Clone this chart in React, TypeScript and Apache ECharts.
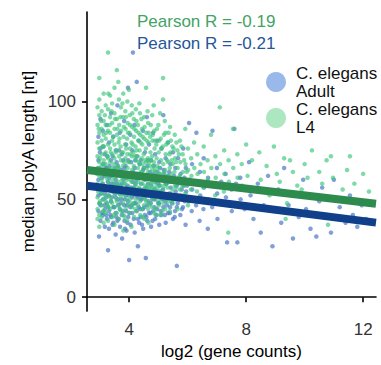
import React, { useEffect, useRef } from "react";
import * as echarts from "echarts";

const FONT = "'Liberation Sans', Arial, Helvetica, sans-serif";

const seriesNames = ["C. elegans\nAdult", "C. elegans\nL4"];
const pearsonAdult = -0.21;
const pearsonL4 = -0.19;
const xTicks = [4, 8, 12];
const yTicks = [0, 50, 100];

// regression fits (end points)
const adultFit: [number, number][] = [[2.56, 56.9], [12.44, 38.1]];
const l4Fit: [number, number][] = [[2.56, 65.0], [12.44, 47.7]];

const adultPoints: [number, number][] = [
  [2.95,82],[2.95,70],[2.95,60],[2.95,52],[2.95,44],[2.97,31],
  [3.02,91],[3.02,76],[3.02,64],[3.02,55],[3.02,47],[3.02,39],
  [3.1,85],[3.1,68],[3.1,58],[3.1,50],[3.1,42],
  [3.17,73],[3.17,62],[3.17,53],[3.17,45],[3.17,36],
  [3.24,88],[3.24,66],[3.24,56],[3.24,48],[3.24,40],[3.28,24],
  [3.31,79],[3.31,61],[3.31,52],[3.31,44],[3.31,35],
  [3.38,94],[3.38,70],[3.38,58],[3.38,49],[3.38,41],
  [3.46,82],[3.46,64],[3.46,54],[3.46,46],[3.46,38],
  [3.54,75],[3.54,60],[3.54,51],[3.54,43],[3.54,32],
  [3.6,98],[3.62,67],[3.6,56],[3.62,47],[3.6,39],
  [3.68,84],[3.69,62],[3.67,53],[3.68,45],[3.69,36],
  [3.75,73],[3.76,58],[3.74,50],[3.75,42],[3.76,30],
  [3.83,90],[3.84,66],[3.82,55],[3.83,47],[3.84,39],
  [3.9,78],[3.91,61],[3.89,52],[3.9,44],[3.91,34],
  [3.96,107],[3.97,70],[3.95,57],[3.96,49],[3.97,41],[4.0,19],
  [4.04,83],[4.05,63],[4.03,54],[4.04,46],[4.05,37],
  [4.11,75],[4.12,59],[4.1,51],[4.11,43],[4.13,125],
  [4.18,88],[4.19,66],[4.17,56],[4.18,48],[4.19,33],
  [4.26,110],[4.26,72],[4.25,60],[4.27,52],[4.26,44],[4.3,26],
  [4.33,80],[4.34,63],[4.32,55],[4.33,46],[4.34,38],
  [4.4,70],[4.41,58],[4.39,50],[4.4,41],
  [4.47,85],[4.48,65],[4.46,54],[4.47,45],[4.48,35],
  [4.54,74],[4.55,60],[4.53,51],[4.54,42],[4.57,20],
  [4.61,92],[4.62,67],[4.6,56],[4.61,47],[4.62,39],
  [4.68,78],[4.69,61],[4.67,52],[4.68,43],
  [4.75,70],[4.76,57],[4.74,48],[4.75,36],
  [4.82,84],[4.83,63],[4.81,53],[4.82,44],
  [4.89,73],[4.9,59],[4.88,50],[4.89,40],
  [4.96,80],[4.97,64],[4.95,54],[4.96,45],
  [5.03,69],[5.04,57],[5.02,48],[5.03,37],
  [5.1,76],[5.11,61],[5.09,51],[5.1,42],
  [5.17,93],[5.18,65],[5.16,55],[5.17,46],
  [5.25,71],[5.26,58],[5.24,49],[5.25,38],
  [5.33,79],[5.34,62],[5.32,52],[5.33,43],
  [5.41,68],[5.42,56],[5.4,46],
  [5.5,74],[5.51,60],[5.49,50],[5.5,40],
  [5.58,66],[5.59,54],[5.57,44],[5.63,16],
  [5.67,71],[5.68,58],[5.66,48],
  [5.76,63],[5.77,52],[5.75,42],
  [5.85,76],[5.86,57],[5.84,46],
  [5.94,66],[5.95,54],[5.93,37],
  [6.05,89],[6.06,60],[6.04,49],
  [6.15,68],[6.16,55],[6.14,44],
  [6.3,84],[6.31,58],[6.29,47],
  [6.42,64],[6.43,52],[6.41,39],
  [6.55,71],[6.56,56],[6.54,45],
  [6.7,61],[6.71,50],[6.69,35],
  [6.85,85],[6.86,57],[6.84,46],
  [7.0,66],[7.01,53],[7.02,40],
  [7.15,59],[7.16,48],[7.35,28],[7.3,63],[7.31,51],
  [7.5,55],[7.51,44],[7.6,86],[7.7,28],[7.65,58],[7.66,47],
  [7.8,61],[7.81,50],[7.95,45],
  [8.1,69],[8.15,52],[8.25,40],[8.4,58],[8.5,33],[8.6,47],[8.75,62],[8.9,26],
  [8.95,44],[9.1,55],[9.2,38],[9.3,66],[9.45,47],[9.6,30],[9.7,52],[9.8,41],
  [9.95,60],[10.05,45],[10.2,35],[10.4,31],[10.5,49],[10.6,56],[10.75,42],[10.9,33],
  [11.0,60],[11.2,46],[11.4,38],[11.55,52],[11.65,42],[11.8,36],[11.95,47],[12.1,40],
  [2.93,57],[2.96,66],[2.99,48],[3.0,74],[3.04,53],[3.07,61],[3.08,43],[3.12,77],[3.14,55],[3.16,47],
  [3.19,66],[3.21,51],[3.22,42],[3.26,72],[3.27,59],[3.29,46],[3.33,67],[3.34,55],[3.36,42],[3.39,62],
  [3.41,51],[3.43,37],[3.44,72],[3.48,58],[3.49,46],[3.51,66],[3.52,53],[3.56,41],[3.57,69],[3.59,58],
  [3.63,50],[3.64,40],[3.66,75],[3.7,57],[3.71,48],[3.73,65],[3.77,53],[3.78,44],[3.8,70],[3.81,60],
  [3.85,50],[3.86,35],[3.88,67],[3.92,56],[3.93,47],[3.94,38],[3.99,62],[4.0,52],[4.01,43],[4.07,69],
  [4.08,56],[4.09,47],[4.14,64],[4.15,52],[4.16,40],[4.21,70],[4.22,58],[4.23,48],[4.28,63],[4.29,51],
  [4.3,40],[4.36,68],[4.37,55],[4.38,45],[4.42,61],[4.43,50],[4.44,37],[4.5,66],[4.51,55],[4.52,46],
  [4.57,62],[4.58,52],[4.59,41],[4.64,70],[4.65,58],[4.66,49],[4.71,64],[4.72,53],[4.73,43],[4.78,60],
  [4.79,50],[4.8,39],[4.85,67],[4.86,55],[4.87,46],[4.92,62],[4.93,52],[4.94,42],[4.99,58],[5.0,48],
  [5.06,66],[5.07,54],[5.08,44],[5.13,60],[5.14,50],[5.2,63],[5.21,52],[5.22,42],[5.28,58],[5.29,47],
  [5.37,64],[5.38,53],[5.39,43],[5.45,59],[5.46,48],[5.54,62],[5.55,52],[5.56,41],[5.62,57],[5.63,46],
  [5.71,60],[5.72,50],[5.8,55],[5.81,45],[5.89,61],[5.9,49],[5.98,57]
];

const l4Points: [number, number][] = [
  [2.92,97],[2.92,88],[2.92,79],[2.92,72],[2.92,66],[2.92,58],[2.92,51],[2.92,45],[2.92,40],
  [2.98,112],[2.98,101],[2.98,93],[2.98,84],[2.98,76],[2.98,69],[2.98,62],[2.98,55],[2.98,48],[2.98,42],[2.98,36],
  [3.06,95],[3.06,86],[3.06,80],[3.06,73],[3.06,67],[3.06,60],[3.06,53],[3.06,47],[3.06,41],
  [3.13,104],[3.13,90],[3.13,83],[3.13,77],[3.13,70],[3.13,64],[3.13,57],[3.13,50],[3.13,44],[3.13,38],
  [3.2,98],[3.2,88],[3.2,81],[3.2,74],[3.2,68],[3.2,62],[3.2,56],[3.2,49],[3.2,43],
  [3.28,125],[3.28,96],[3.28,85],[3.28,78],[3.28,71],[3.28,65],[3.28,59],[3.28,52],[3.28,46],[3.28,39],
  [3.35,103],[3.35,92],[3.35,84],[3.35,76],[3.35,69],[3.35,63],[3.35,57],[3.35,51],[3.35,45],
  [3.42,99],[3.42,89],[3.42,80],[3.42,73],[3.42,66],[3.42,60],[3.42,54],[3.42,48],[3.42,41],
  [3.5,107],[3.5,94],[3.5,86],[3.5,78],[3.5,71],[3.5,65],[3.5,58],[3.5,52],[3.5,46],[3.5,37],
  [3.58,116],[3.58,91],[3.58,83],[3.58,75],[3.58,68],[3.58,62],[3.58,55],[3.58,49],[3.58,43],
  [3.65,101],[3.66,88],[3.64,79],[3.66,72],[3.65,66],[3.64,59],[3.66,53],[3.65,47],[3.64,40],
  [3.72,97],[3.73,85],[3.71,77],[3.72,70],[3.73,63],[3.71,57],[3.72,51],[3.73,44],
  [3.8,104],[3.79,92],[3.81,82],[3.8,74],[3.79,67],[3.81,61],[3.8,55],[3.79,48],[3.81,42],[3.8,34],
  [3.87,95],[3.88,86],[3.86,78],[3.87,71],[3.88,64],[3.86,58],[3.87,52],[3.88,45],
  [3.94,100],[3.95,89],[3.93,81],[3.94,73],[3.95,66],[3.93,60],[3.94,54],[3.95,47],[3.93,39],
  [4.02,93],[4.01,84],[4.03,76],[4.02,69],[4.01,62],[4.03,56],[4.02,50],[4.01,43],
  [4.09,98],[4.1,87],[4.08,79],[4.09,72],[4.1,65],[4.08,59],[4.09,52],[4.1,46],[4.08,36],
  [4.16,91],[4.17,82],[4.15,74],[4.16,67],[4.17,61],[4.15,55],[4.16,48],[4.17,41],
  [4.23,96],[4.24,85],[4.22,77],[4.23,70],[4.24,63],[4.22,57],[4.23,50],[4.24,44],
  [4.3,88],[4.31,80],[4.29,72],[4.3,66],[4.31,59],[4.29,53],[4.3,47],
  [4.37,94],[4.38,83],[4.36,75],[4.37,68],[4.38,61],[4.36,55],[4.37,49],[4.38,42],
  [4.44,86],[4.45,78],[4.43,71],[4.44,64],[4.45,58],[4.43,51],[4.44,45],
  [4.51,92],[4.52,81],[4.5,73],[4.51,66],[4.52,60],[4.5,54],[4.51,47],[4.52,40],
  [4.58,107],[4.59,84],[4.57,76],[4.58,69],[4.59,62],[4.57,56],[4.58,49],
  [4.65,89],[4.66,79],[4.64,71],[4.65,64],[4.66,58],[4.64,52],[4.65,45],[4.66,38],
  [4.72,82],[4.73,74],[4.71,67],[4.72,61],[4.73,55],[4.71,48],
  [4.79,93],[4.8,80],[4.78,72],[4.79,65],[4.8,59],[4.78,53],[4.79,46],
  [4.86,85],[4.87,76],[4.85,69],[4.86,62],[4.87,56],[4.85,50],[4.86,43],
  [4.93,78],[4.94,71],[4.92,64],[4.93,58],[4.94,52],[4.92,45],
  [5.0,88],[5.01,74],[5.02,66],[5.0,60],[5.01,54],[5.02,47],
  [5.08,81],[5.09,70],[5.07,63],[5.08,57],[5.09,50],[5.07,42],
  [5.16,112],[5.16,101],[5.15,77],[5.17,68],[5.16,61],[5.15,55],[5.17,48],
  [5.24,84],[5.25,73],[5.23,65],[5.24,58],[5.25,52],[5.23,45],
  [5.32,79],[5.33,69],[5.31,62],[5.32,56],[5.33,49],
  [5.4,87],[5.41,74],[5.39,66],[5.4,59],[5.41,53],[5.39,44],
  [5.48,77],[5.49,68],[5.47,61],[5.48,55],[5.49,48],
  [5.56,83],[5.57,71],[5.55,64],[5.56,57],[5.57,50],
  [5.65,75],[5.66,66],[5.64,59],[5.65,52],[5.66,45],
  [5.74,80],[5.75,69],[5.73,62],[5.74,55],
  [5.83,73],[5.84,64],[5.82,57],[5.83,50],
  [5.92,86],[5.93,68],[5.91,60],[5.92,53],
  [6.01,76],[6.02,65],[6.0,58],[6.01,47],
  [6.12,71],[6.13,62],[6.11,55],
  [6.22,79],[6.23,66],[6.21,58],[6.22,50],
  [6.33,73],[6.34,63],[6.32,54],
  [6.44,68],[6.45,59],[6.43,51],
  [6.55,77],[6.56,64],[6.54,56],
  [6.68,70],[6.69,60],[6.67,49],
  [6.8,83],[6.81,66],[6.79,57],
  [6.95,72],[6.96,61],[6.94,52],
  [7.1,97],[7.11,68],[7.09,58],
  [7.25,75],[7.26,63],[7.24,54],
  [7.4,70],[7.41,59],[7.39,33],
  [7.55,86],[7.56,66],[7.54,56],
  [7.7,73],[7.71,61],
  [7.85,68],[7.86,57],[7.84,47],
  [8.0,78],[8.05,62],[8.2,70],[8.3,55],[8.45,74],[8.5,60],[8.7,67],[8.8,52],
  [8.95,77],[9.05,63],[9.15,59],[9.3,71],[9.4,48],[9.5,70],[9.6,64],[9.75,57],
  [9.9,55],[10.0,68],[10.1,61],[10.25,75],[10.35,52],[10.5,64],[10.6,58],[10.75,70],
  [10.9,72],[10.97,61],[11.1,50],[11.3,55],[11.45,65],[11.55,72],[11.7,58],[11.85,48],
  [12.0,63],[12.2,54],[9.35,40],[10.8,37],
  [2.9,63],[2.94,54],[2.96,86],[3.0,71],[3.01,49],[3.04,90],[3.08,58],[3.09,77],[3.11,44],[3.15,68],
  [3.17,93],[3.18,52],[3.22,84],[3.23,61],[3.25,72],[3.26,47],[3.29,104],[3.3,66],[3.32,55],[3.33,88],
  [3.37,74],[3.38,49],[3.4,95],[3.41,62],[3.44,57],[3.45,82],[3.47,68],[3.48,42],[3.52,91],[3.53,61],
  [3.55,74],[3.57,50],[3.6,86],[3.61,66],[3.62,57],[3.63,110],[3.67,81],[3.68,63],[3.7,45],[3.7,92],
  [3.74,74],[3.76,60],[3.77,99],[3.78,53],[3.82,87],[3.83,69],[3.84,58],[3.85,41],[3.89,92],[3.9,76],
  [3.91,62],[3.92,50],[3.96,84],[3.97,69],[3.98,56],[3.99,106],[4.03,88],[4.04,73],[4.05,60],[4.06,48],
  [4.11,94],[4.12,78],[4.13,63],[4.14,53],[4.18,86],[4.19,72],[4.2,58],[4.21,45],[4.25,90],[4.26,75],
  [4.27,61],[4.28,53],[4.32,84],[4.33,69],[4.34,56],[4.35,99],[4.39,79],[4.4,64],[4.41,52],[4.42,91],
  [4.46,82],[4.47,68],[4.48,55],[4.49,41],[4.53,87],[4.54,70],[4.55,57],[4.56,50],[4.6,80],[4.61,66],
  [4.62,54],[4.63,95],[4.67,84],[4.68,69],[4.69,56],[4.7,47],[4.74,88],[4.75,70],[4.76,58],[4.77,51],
  [4.81,83],[4.82,67],[4.83,55],[4.84,98],[4.88,80],[4.89,65],[4.9,54],[4.91,42],[4.95,86],[4.96,67],
  [4.97,56],[4.98,49],[5.03,80],[5.04,63],[5.05,52],[5.06,94],[5.11,76],[5.12,60],[5.13,53],[5.14,44],
  [5.19,83],[5.2,64],[5.21,57],[5.22,90],[5.27,78],[5.28,61],[5.29,50],[5.3,70],[5.35,84],[5.36,59],
  [5.37,52],[5.38,73],[5.43,80],[5.44,63],[5.45,49],[5.46,70],[5.52,76],[5.53,60],[5.54,52],[5.6,69],
  [5.61,56],[5.62,79],[5.7,73],[5.71,61],[5.72,50],[5.79,77],[5.8,60],[5.88,70],[5.89,57],[5.97,64]
];

const X_MIN = 2.56;
const X_MAX = 12.44;
const Y_MIN = -7.1;
const Y_MAX = 145.7;

export default function App() {
  const ref = useRef<HTMLDivElement>(null);
  useEffect(() => {
    const chart = echarts.init(ref.current!, null, { renderer: "svg" });
    const axisCommon = {
      type: "value" as const,
      splitLine: { show: false },
      axisLine: { show: true, lineStyle: { color: "#000", width: 1.6 } },
      nameLocation: "middle" as const,
      nameTextStyle: { fontSize: 17, color: "#000", fontFamily: FONT },
    };
    chart.setOption({
      animation: false,
      backgroundColor: "#fff",
      textStyle: { fontFamily: FONT },
      grid: { left: 87, top: 12, right: 5, bottom: 52, containLabel: false },
      xAxis: {
        ...axisCommon,
        min: X_MIN,
        max: X_MAX,
        name: "log2 (gene counts)",
        nameGap: 30,
        axisTick: { show: true, length: 5, customValues: xTicks, lineStyle: { color: "#000", width: 1.6 } },
        axisLabel: { customValues: xTicks, fontSize: 17, color: "#333", margin: 10, fontFamily: FONT },
      },
      yAxis: {
        ...axisCommon,
        min: Y_MIN,
        max: Y_MAX,
        name: "median polyA length [nt]",
        nameGap: 48,
        axisTick: { show: true, length: 5, customValues: yTicks, lineStyle: { color: "#000", width: 1.6 } },
        axisLabel: { customValues: yTicks, fontSize: 17, color: "#333", margin: 11, fontFamily: FONT },
      },
      legend: {
        orient: "vertical",
        left: 261,
        top: 59,
        itemWidth: 20,
        itemHeight: 20,
        itemGap: 0,
        selectedMode: false,
        textStyle: { fontSize: 17, lineHeight: 18, color: "#111", fontFamily: FONT, padding: [0, 0, 0, 5] },
        data: [
          { name: seriesNames[0], icon: "circle", itemStyle: { color: "#98b9ea", opacity: 1 } },
          { name: seriesNames[1], icon: "circle", itemStyle: { color: "#ace7c0", opacity: 1 } },
        ],
      },
      graphic: [
        {
          type: "text",
          left: 137,
          top: 13,
          style: { text: `Pearson R = ${pearsonL4.toFixed(2)}`, fill: "#43a364", font: `17px ${FONT}` },
        },
        {
          type: "text",
          left: 137,
          top: 35,
          style: { text: `Pearson R = ${pearsonAdult.toFixed(2)}`, fill: "#24579a", font: `17px ${FONT}` },
        },
      ],
      series: [
        {
          name: seriesNames[0],
          type: "scatter",
          data: adultPoints,
          symbolSize: 4.5,
          itemStyle: { color: "#4a78c8", opacity: 0.7 },
          z: 2,
        },
        {
          name: seriesNames[1],
          type: "scatter",
          data: l4Points,
          symbolSize: 4.5,
          itemStyle: { color: "#3cc47a", opacity: 0.65 },
          z: 2,
        },
        {
          name: "fitL4",
          type: "line",
          data: l4Fit,
          symbol: "none",
          lineStyle: { color: "#2e8b4e", width: 8 },
          z: 5,
        },
        {
          name: "fitAdult",
          type: "line",
          data: adultFit,
          symbol: "none",
          lineStyle: { color: "#11408a", width: 8 },
          z: 5,
        },
      ],
    });
    return () => chart.dispose();
  }, []);
  return <div ref={ref} style={{ position: "absolute", left: 0, top: 0, width: 381, height: 365 }} />;
}
